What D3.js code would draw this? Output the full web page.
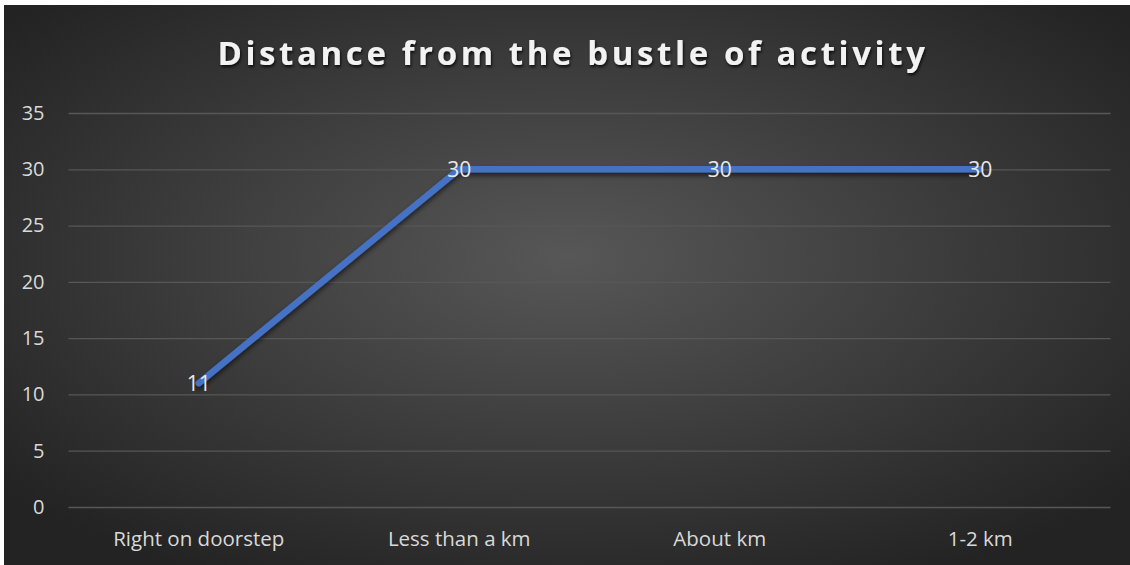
<!DOCTYPE html>
<html><head><meta charset="utf-8">
<script src="https://cdn.jsdelivr.net/npm/d3@7"></script>
<style>html,body{margin:0;padding:0;background:#fff;overflow:hidden}</style>
</head><body>
<svg id="c" width="1130" height="565"></svg>
<script>
const categories = ["Right on doorstep", "Less than a km", "About km", "1-2 km"];
const values = [11, 30, 30, 30];
const yTicks = [0, 5, 10, 15, 20, 25, 30, 35];
const title = "Distance from the bustle of activity";

(function(){
const svg = d3.select("#c");
const defs = svg.append("defs");
const grad = defs.append("radialGradient").attr("id","bg").attr("cx","50%").attr("cy","45%").attr("r","65%");
grad.append("stop").attr("offset","0%").attr("stop-color","#575757");
grad.append("stop").attr("offset","100%").attr("stop-color","#232323");
const sh = defs.append("filter").attr("id","sh").attr("x","-10%").attr("y","-10%").attr("width","120%").attr("height","140%");
sh.append("feDropShadow").attr("dx",0).attr("dy",3).attr("stdDeviation",2.5).attr("flood-color","#000").attr("flood-opacity",0.6);
const tsh = defs.append("filter").attr("id","tsh");
tsh.append("feDropShadow").attr("dx",1).attr("dy",2).attr("stdDeviation",1.5).attr("flood-color","#000").attr("flood-opacity",0.8);

svg.append("rect").attr("x",4).attr("y",5).attr("width",1126).attr("height",560).attr("fill","url(#bg)");

const mLeft = 68.5, mRight = 1110.5, mTop = 113, mBottom = 507;
const x = d3.scaleBand().domain(categories).range([mLeft, mRight]);
const y = d3.scaleLinear().domain([0, 35]).range([mBottom, mTop]);

svg.append("text").attr("x", 573).attr("y", 65).attr("text-anchor","middle")
  .attr("font-family","'Open Sans', sans-serif").attr("font-weight","bold").attr("font-size",33)
  .attr("letter-spacing","3.6px").attr("fill","#f2f2f2").attr("filter","url(#tsh)").text(title);

const yAxis = svg.append("g").attr("transform",`translate(${mLeft},0)`)
  .call(d3.axisLeft(y).tickValues(yTicks).tickSize(-(mRight-mLeft)).tickPadding(24));
yAxis.select(".domain").remove();
yAxis.selectAll(".tick line").attr("stroke","#575757").attr("stroke-width",1.3);
yAxis.selectAll(".tick text").attr("fill","#d9d9d9").attr("font-family","'Open Sans', sans-serif").attr("font-size",20);

const xAxis = svg.append("g").attr("transform",`translate(0,${mBottom})`)
  .call(d3.axisBottom(x).tickSize(0).tickPadding(24));
xAxis.select(".domain").remove();
xAxis.selectAll(".tick text").attr("fill","#d9d9d9").attr("font-family","'Open Sans', sans-serif").attr("font-size",20.5);

const cx = d => x(d) + x.bandwidth()/2;
const line = d3.line().x((d,i) => cx(categories[i])).y(d => y(d));
svg.append("path").datum(values).attr("d", line).attr("fill","none")
  .attr("stroke","#4472c4").attr("stroke-width",6.5).attr("stroke-linejoin","round").attr("stroke-linecap","round")
  .attr("filter","url(#sh)");

svg.selectAll(".lbl").data(values).enter().append("text")
  .attr("x",(d,i)=>cx(categories[i])).attr("y",d=>y(d)+7.5).attr("text-anchor","middle")
  .attr("fill","#e8e8e8").attr("font-family","'Open Sans', sans-serif").attr("font-size",21).text(d=>d);
})();
</script>
</body></html>
